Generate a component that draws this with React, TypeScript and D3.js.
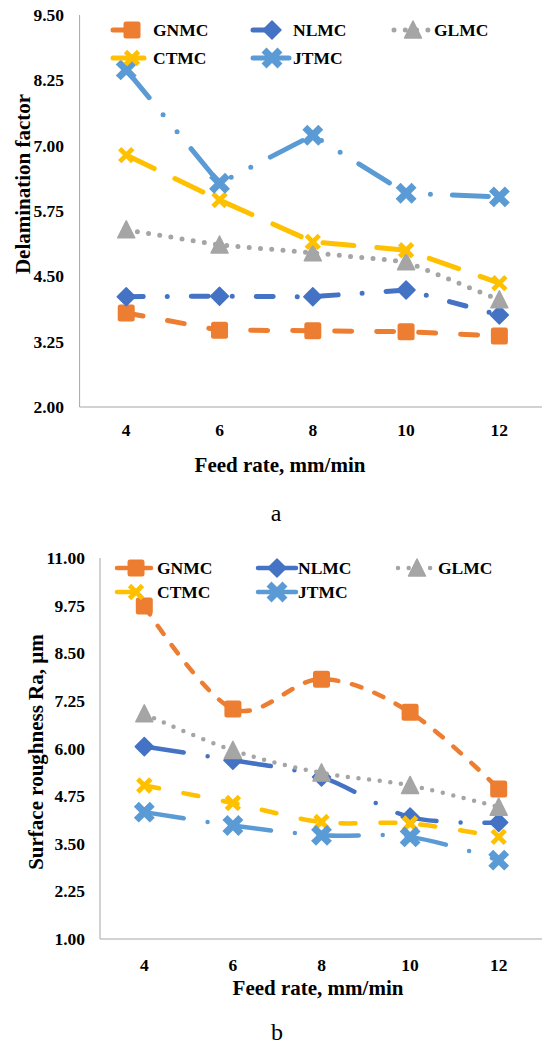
import React from "react";
import * as d3 from "d3";

// ---------- data ----------
const feedRates = ["4", "6", "8", "10", "12"];
const seriesNames = ["GNMC", "NLMC", "GLMC", "CTMC", "JTMC"];

const delamGNMC = [3.8, 3.47, 3.46, 3.44, 3.36];
const delamNLMC = [4.11, 4.12, 4.11, 4.24, 3.76];
const delamGLMC = [5.39, 5.1, 4.95, 4.78, 4.05];
const delamCTMC = [6.82, 5.96, 5.16, 5.0, 4.37];
const delamJTMC = [8.45, 6.28, 7.2, 6.09, 6.02];

const raGNMC = [9.74, 7.04, 7.82, 6.95, 4.94];
const raNLMC = [6.05, 5.69, 5.25, 4.2, 4.06];
const raGLMC = [6.91, 5.95, 5.36, 5.03, 4.46];
const raCTMC = [5.03, 4.57, 4.07, 4.03, 3.68];
const raJTMC = [4.33, 3.98, 3.72, 3.68, 3.07];

const delamTicks = [2.0, 3.25, 4.5, 5.75, 7.0, 8.25, 9.5];
const raTicks = [1.0, 2.25, 3.5, 4.75, 6.0, 7.25, 8.5, 9.75, 11.0];

// ---------- styles ----------
const FONT = "'Liberation Serif', 'Times New Roman', serif";
const colors: Record<string, string> = {
  GNMC: "#ED7D31",
  NLMC: "#4472C4",
  GLMC: "#A5A5A5",
  CTMC: "#FFC000",
  JTMC: "#5B9BD5",
};
const shapes: Record<string, string> = {
  GNMC: "square",
  NLMC: "diamond",
  GLMC: "triangle",
  CTMC: "x",
  JTMC: "star",
};

function Marker({ shape, color, x, y }: { shape: string; color: string; x: number; y: number }) {
  switch (shape) {
    case "square":
      return <rect x={x - 8.5} y={y - 8.5} width={17} height={17} rx={2.5} fill={color} />;
    case "diamond":
      return (
        <path
          d={`M${x},${y - 9}L${x + 9},${y}L${x},${y + 9}L${x - 9},${y}Z`}
          fill={color}
          stroke={color}
          strokeWidth={1.5}
          strokeLinejoin="round"
        />
      );
    case "triangle":
      return (
        <path
          d={`M${x},${y - 9}L${x + 8.5},${y + 8}L${x - 8.5},${y + 8}Z`}
          fill={color}
          stroke={color}
          strokeWidth={1.5}
          strokeLinejoin="round"
        />
      );
    case "x":
      return (
        <path
          d={`M${x - 6.5},${y - 6.5}L${x + 6.5},${y + 6.5}M${x - 6.5},${y + 6.5}L${x + 6.5},${y - 6.5}`}
          stroke={color}
          strokeWidth={4.8}
          fill="none"
        />
      );
    default:
      return (
        <path
          d={`M${x - 5.5},${y - 5.5}L${x + 5.5},${y + 5.5}M${x - 5.5},${y + 5.5}L${x + 5.5},${y - 5.5}`}
          stroke={color}
          strokeWidth={7}
          strokeLinecap="square"
          fill="none"
        />
      );
  }
}

type PanelProps = {
  values: number[][];
  ticks: number[];
  yDomain: [number, number];
  yRange: [number, number];
  xRange: [number, number];
  smooth: boolean;
  lineWidth: number;
  dashes: string[];
  yTitle: string;
  yTitleX: number;
  yTitleY: number;
  tickRight: number;
  xTickY: number;
  xTitleX: number;
  xTitleY: number;
  legendCols: number[];
  legendRows: number[];
  panelLabel: string;
  panelLabelX: number;
  panelLabelY: number;
};

function Panel(p: PanelProps) {
  const x = d3.scalePoint<string>().domain(feedRates).range(p.xRange).padding(0.5);
  const y = d3.scaleLinear().domain(p.yDomain).range(p.yRange);
  const line = d3
    .line<number>()
    .x((_, i) => x(feedRates[i]) as number)
    .y((d) => y(d))
    .curve(p.smooth ? d3.curveCatmullRom.alpha(0) : d3.curveLinear);
  const axisColor = "#A6A6A6";
  const top = y(p.yDomain[1]);
  const bottom = y(p.yDomain[0]);
  return (
    <g fontFamily={FONT}>
      {/* axes */}
      <line x1={p.xRange[0]} x2={p.xRange[0]} y1={top} y2={bottom} stroke={axisColor} strokeWidth={1} />
      <line x1={p.xRange[0]} x2={p.xRange[1]} y1={bottom} y2={bottom} stroke={axisColor} strokeWidth={1} />
      {p.ticks.map((t) => (
        <text
          key={t}
          x={p.tickRight}
          y={y(t)}
          textAnchor="end"
          dominantBaseline="central"
          fontSize={17.5}
          fontWeight="bold"
        >
          {t.toFixed(2)}
        </text>
      ))}
      {feedRates.map((c) => (
        <text
          key={c}
          x={x(c) as number}
          y={p.xTickY}
          textAnchor="middle"
          dominantBaseline="central"
          fontSize={17.5}
          fontWeight="bold"
        >
          {c}
        </text>
      ))}
      <text
        x={p.xTitleX}
        y={p.xTitleY}
        textAnchor="middle"
        dominantBaseline="central"
        fontSize={21}
        fontWeight="bold"
      >
        Feed rate, mm/min
      </text>
      <text
        transform={`translate(${p.yTitleX},${p.yTitleY}) rotate(-90)`}
        textAnchor="middle"
        dominantBaseline="central"
        fontSize={21}
        fontWeight="bold"
      >
        {p.yTitle}
      </text>
      {/* series */}
      {seriesNames.map((s, si) => (
        <g key={s}>
          <path
            d={line(p.values[si]) || ""}
            fill="none"
            stroke={colors[s]}
            strokeWidth={p.lineWidth}
            strokeDasharray={p.dashes[si]}
            strokeLinecap="round"
          />
          {p.values[si].map((v, i) => (
            <Marker key={i} shape={shapes[s]} color={colors[s]} x={x(feedRates[i]) as number} y={y(v)} />
          ))}
        </g>
      ))}
      {/* legend */}
      {seriesNames.map((s, si) => {
        const sx = p.legendCols[si % 3];
        const sy = p.legendRows[Math.floor(si / 3)];
        return (
          <g key={"lg" + s}>
            <line
              x1={sx}
              x2={sx + 38}
              y1={sy}
              y2={sy}
              stroke={colors[s]}
              strokeWidth={p.lineWidth}
              strokeDasharray={p.dashes[si]}
              strokeLinecap="round"
            />
            <Marker shape={shapes[s]} color={colors[s]} x={sx + 19} y={sy} />
            <text x={sx + 40} y={sy} dominantBaseline="central" fontSize={17.5} fontWeight="bold">
              {s}
            </text>
          </g>
        );
      })}
      <text x={p.panelLabelX} y={p.panelLabelY} textAnchor="middle" dominantBaseline="central" fontSize={24}>
        {p.panelLabel}
      </text>
    </g>
  );
}

export default function App() {
  return (
    <svg
      width={542}
      height={1048}
      viewBox="0 0 542 1048"
      style={{ position: "absolute", left: 0, top: 0, background: "#fff" }}
    >
      <rect width={542} height={1048} fill="#fff" />
      <Panel
        values={[delamGNMC, delamNLMC, delamGLMC, delamCTMC, delamJTMC]}
        ticks={delamTicks}
        yDomain={[2, 9.5]}
        yRange={[407, 15]}
        xRange={[79.6, 546]}
        smooth={false}
        lineWidth={5}
        dashes={["17,25", "17,24,0,24", "0,11.3", "31,23", "36,22,0,22,0,22"]}
        yTitle="Delamination factor"
        yTitleX={23}
        yTitleY={184}
        tickRight={64}
        xTickY={430}
        xTitleX={280}
        xTitleY={465}
        legendCols={[113, 253, 394]}
        legendRows={[30, 58]}
        panelLabel="a"
        panelLabelX={276}
        panelLabelY={513}
      />
      <Panel
        values={[raGNMC, raNLMC, raGLMC, raCTMC, raJTMC]}
        ticks={raTicks}
        yDomain={[1, 11]}
        yRange={[939, 558]}
        xRange={[100, 543]}
        smooth={true}
        lineWidth={4.5}
        dashes={["10,14", "40,24,0,24", "0,10.7", "15,25", "40,24,0,24"]}
        yTitle="Surface roughness  Ra, µm"
        yTitleX={36}
        yTitleY={752}
        tickRight={85}
        xTickY={965}
        xTitleX={318}
        xTitleY={988}
        legendCols={[117, 258, 398]}
        legendRows={[568, 592]}
        panelLabel="b"
        panelLabelX={277}
        panelLabelY={1032}
      />
    </svg>
  );
}
